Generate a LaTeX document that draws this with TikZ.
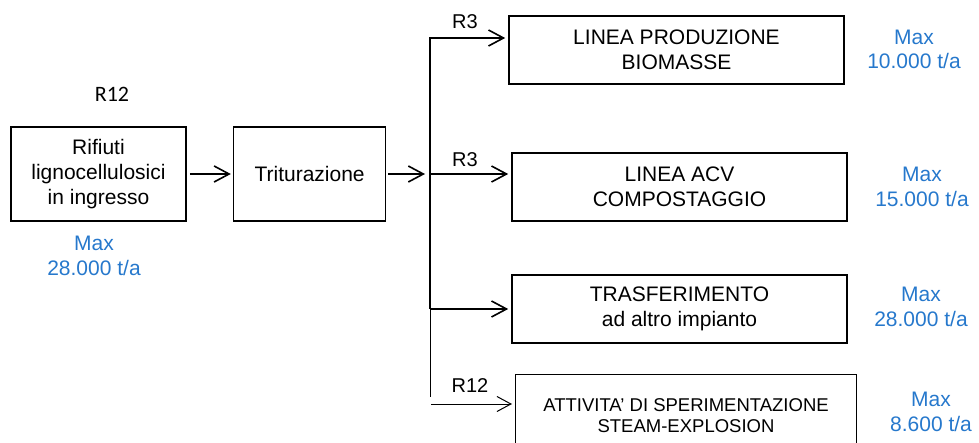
\documentclass[tikz,border=0pt]{standalone}
\usepackage{fontspec}
\setmainfont{Liberation Sans}
\newfontfamily\califont{Carlito}
\usetikzlibrary{positioning,arrows.meta}
\definecolor{maxblue}{RGB}{38,120,204}
\tikzset{>={Straight Barb[length=15pt,width=16pt]},
ve/.style={rectangle,draw,line width=1.6pt,inner sep=0pt,align=center,
  font=\fontsize{21}{25}\selectfont},
vt/.style={ve,line width=1pt,font=\fontsize{18.5}{21}\selectfont},
el/.style={inner sep=0pt,font=\fontsize{20}{24}\selectfont},
mx/.style={text=maxblue,align=center,inner sep=0pt,font=\fontsize{21}{24.5}\selectfont},
fl/.style={->,line width=1.6pt,shorten >=3pt},
ft/.style={->,line width=1pt,shorten >=3pt,>={Straight Barb[length=14pt,width=15pt]}},
}
\begin{document}
\begin{tikzpicture}[x=1pt,y=-1pt]
	\clip (0,0) rectangle (979,443);
	\node[ve,minimum width=175pt,minimum height=94pt] (rif) at (98.5,174) {Rifiuti\\lignocellulosici\\in ingresso};
	\node[ve,minimum width=152pt,minimum height=94pt,right=46pt of rif] (trit) {Triturazione};

	\node[ve,minimum width=335pt,minimum height=68pt] (bio) at (676.5,50) {LINEA PRODUZIONE\\BIOMASSE};
	\node[ve,minimum width=335pt,minimum height=68pt] (acv) at (679.5,187) {LINEA ACV\\COMPOSTAGGIO};
	\node[ve,minimum width=335pt,minimum height=68pt] (tra) at (679.5,309) {TRASFERIMENTO\\ad altro impianto};
	\node[vt,minimum width=341pt,minimum height=84pt] (ste) at (686,416) {ATTIVITA’ DI SPERIMENTAZIONE\\STEAM-EXPLOSION};

	\coordinate (jin) at (425,174);
	\coordinate (jtop) at (430,38);
	\coordinate (jmid) at (430,174);
	\coordinate (jlow) at (430,309);
	\coordinate (jend) at (430,397);
	\coordinate (jbot) at (431,404);

	\node[el,font=\califont\fontsize{22}{26}\selectfont] (r12a) at (112,94) {R12};
	\node[el] (r3a) at (465,22) {R3};
	\node[el] (r3b) at (465,160) {R3};
	\node[el] (r12b) at (470,386) {R12};

	\node[mx] (mrif) at (94,256) {Max\\28.000 t/a};
	\node[mx] (mbio) at (914,49.5) {Max\\10.000 t/a};
	\node[mx] (macv) at (922,187) {Max\\15.000 t/a};
	\node[mx] (mtra) at (921,307) {Max\\28.000 t/a};
	\node[mx] (mste) at (931,412) {Max\\8.600 t/a};

	\draw[fl,shorten <=3pt,shorten >=2pt] (rif) -- (trit);
	\draw[fl,shorten >=0pt,shorten <=2pt] (trit) -- (jin);
	\draw[fl] (jlow) -- (jtop) -- (jtop -| bio.west);
	\draw[fl] (jmid) -- (jmid -| acv.west);
	\draw[fl] (jlow) -- (jlow -| tra.west);
	\draw[line width=1pt] (jlow) -- (jend);
	\draw[ft] (jbot) -- (jbot -| ste.west);
\end{tikzpicture}
\end{document}
